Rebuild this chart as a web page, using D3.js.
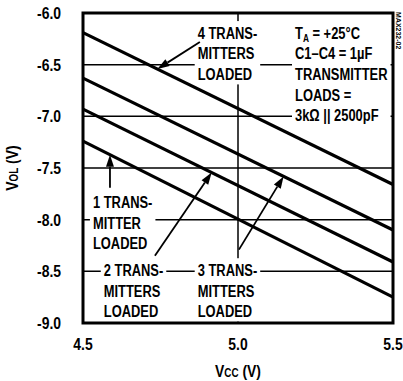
<!DOCTYPE html>
<html>
<head>
<meta charset="utf-8">
<script src="https://cdn.jsdelivr.net/npm/d3@7"></script>
<style>
  html, body { margin: 0; padding: 0; background: #fff; }
  svg { display: block; }
  text { font-family: "Liberation Sans", Arial, sans-serif; font-weight: bold; fill: #000; }
</style>
</head>
<body>
<svg id="chart" width="403" height="381"></svg>
<script>
// Supply voltage (V) at the two ends of each curve
const vcc = [4.5, 5.5];

// Output low voltage VOL (V) for each number of loaded transmitters
const vol4 = [-6.19, -7.66];
const vol3 = [-6.63, -8.10];
const vol2 = [-6.93, -8.41];
const vol1 = [-7.24, -8.75];

const xTicks = [4.5, 5.0, 5.5];
const xTickLabels = ["4.5", "5.0", "5.5"];
const yTicks = [-6.0, -6.5, -7.0, -7.5, -8.0, -8.5, -9.0];
const yTickLabels = ["-6.0", "-6.5", "-7.0", "-7.5", "-8.0", "-8.5", "-9.0"];

const series = [vol4, vol3, vol2, vol1];

// Callout labels: text lines, anchor (Vcc, V) of the first line
const callouts = [
  { lines: ["4 TRANS-", "MITTERS", "LOADED"], at: [4.87, -6.25] },
  { lines: ["1 TRANS-", "MITTER", "LOADED"], at: [4.532, -7.89] },
  { lines: ["2 TRANS-", "MITTERS", "LOADED"], at: [4.567, -8.545] },
  { lines: ["3 TRANS-", "MITTERS", "LOADED"], at: [4.87, -8.545] }
];
const conditions = ["T\u2090", "C1\u2013C4 = 1\u00b5F", "TRANSMITTER", "LOADS =", "3k\u03a9 || 2500pF"];

// Arrows: tail (Vcc, V) and tip on a curve (series index, Vcc)
const arrows = [
  { tail: [4.877, -6.28], curve: 0, tipX: 4.74 },
  { tail: [4.587, -7.69], curve: 3, tipX: 4.587 },
  { tail: [4.732, -8.35], curve: 2, tipX: 4.915 },
  { tail: [5.003, -8.29], curve: 1, tipX: 5.147 }
];

const svg = d3.select("#chart");
const x = d3.scaleLinear().domain([4.5, 5.5]).range([83, 393]);
const y = d3.scaleLinear().domain([-9, -6]).range([323, 13]);

// condensed type: horizontally squeezed Liberation Sans Bold
const SQ_LABEL = 0.76, SQ_TICK = 0.82;
function squeezed(parent, px, py, sx, size, anchor, rotate) {
  const g = parent.append("g")
    .attr("transform", `translate(${px},${py})` + (rotate ? ` rotate(${rotate})` : "") + ` scale(${sx},1)`);
  return g.append("text").attr("font-size", size).attr("text-anchor", anchor || "start");
}

// value of a straight curve at a given Vcc
const valueAt = (s, v) => s[0] + (s[1] - s[0]) * (v - vcc[0]) / (vcc[1] - vcc[0]);

// grid
const grid = svg.append("g").attr("stroke", "#000").attr("stroke-width", 1.5);
grid.selectAll("line.h").data(yTicks.slice(1, -1)).join("line")
  .attr("x1", x(4.5)).attr("x2", x(5.5))
  .attr("y1", d => y(d)).attr("y2", d => y(d));
grid.append("line")
  .attr("x1", x(5.0)).attr("x2", x(5.0))
  .attr("y1", y(-6)).attr("y2", y(-9));

// text blocks with white backing that interrupt the grid
const lineH = 20.6;
function textBlock(lines, px, py) {
  const g = svg.append("g").attr("transform", `translate(${px},${py})`);
  const t = g.append("g").attr("transform", `scale(${SQ_LABEL},1)`);
  lines.forEach((s, i) => {
    const tx = t.append("text").attr("x", 0).attr("y", i * lineH).attr("font-size", 17);
    if (s === "T\u2090") {
      tx.append("tspan").text("T");
      tx.append("tspan").attr("font-size", 11).attr("dy", 3).text("A");
      tx.append("tspan").attr("dy", -3).text(" = +25\u00b0C");
    } else {
      tx.text(s);
    }
  });
  const bb = t.node().getBBox();
  g.insert("rect", ":first-child")
    .attr("x", bb.x * SQ_LABEL - 3).attr("y", bb.y - 2)
    .attr("width", bb.width * SQ_LABEL + 6).attr("height", bb.height + 3)
    .attr("fill", "#fff");
  return g;
}
callouts.forEach(c => textBlock(c.lines, x(c.at[0]), y(c.at[1])));
textBlock(conditions, 295, y(-6.25));

// curves
const line = d3.line().x(d => x(d[0])).y(d => y(d[1]));
svg.append("g").selectAll("path").data(series).join("path")
  .attr("d", s => line(vcc.map((v, i) => [v, s[i]])))
  .attr("fill", "none").attr("stroke", "#000").attr("stroke-width", 3.2);

// arrows
const ag = svg.append("g");
arrows.forEach(a => {
  const x0 = x(a.tail[0]), y0 = y(a.tail[1]);
  const x1 = x(a.tipX), y1 = y(valueAt(series[a.curve], a.tipX));
  const dx = x1 - x0, dy = y1 - y0, len = Math.hypot(dx, dy);
  const ux = dx / len, uy = dy / len;
  const hl = 12, hw = 4;
  const bx = x1 - ux * hl, by = y1 - uy * hl;
  ag.append("line").attr("x1", x0).attr("y1", y0).attr("x2", bx).attr("y2", by)
    .attr("stroke", "#000").attr("stroke-width", 1.8);
  ag.append("path")
    .attr("d", `M${x1},${y1}L${bx - uy * hw},${by + ux * hw}L${bx + uy * hw},${by - ux * hw}Z`)
    .attr("fill", "#000");
});

// frame
svg.append("rect").attr("x", x(4.5)).attr("y", y(-6))
  .attr("width", x(5.5) - x(4.5)).attr("height", y(-9) - y(-6))
  .attr("fill", "none").attr("stroke", "#000").attr("stroke-width", 3);

// tick labels
const yl = svg.append("g");
yTicks.forEach((d, i) => squeezed(yl, 61, y(d) + 6, SQ_TICK, 17, "end").text(yTickLabels[i]));
const xl = svg.append("g");
xTicks.forEach((d, i) => squeezed(xl, x(d), 350, SQ_TICK, 17, "middle").text(xTickLabels[i]));

// axis titles
const xt = squeezed(svg, x(5.0), 377, SQ_TICK, 17, "middle");
xt.append("tspan").text("V");
xt.append("tspan").attr("font-size", 12).text("CC");
xt.append("tspan").text(" (V)");

const yt = squeezed(svg, 18, y(-7.5), SQ_TICK, 17, "middle", -90);
yt.append("tspan").text("V");
yt.append("tspan").attr("font-size", 12).text("OL");
yt.append("tspan").text(" (V)");

// figure tag on the right margin
squeezed(svg, 396, 12, 1, 7, "start", 90).text("MAX232-02");
</script>
</body>
</html>
